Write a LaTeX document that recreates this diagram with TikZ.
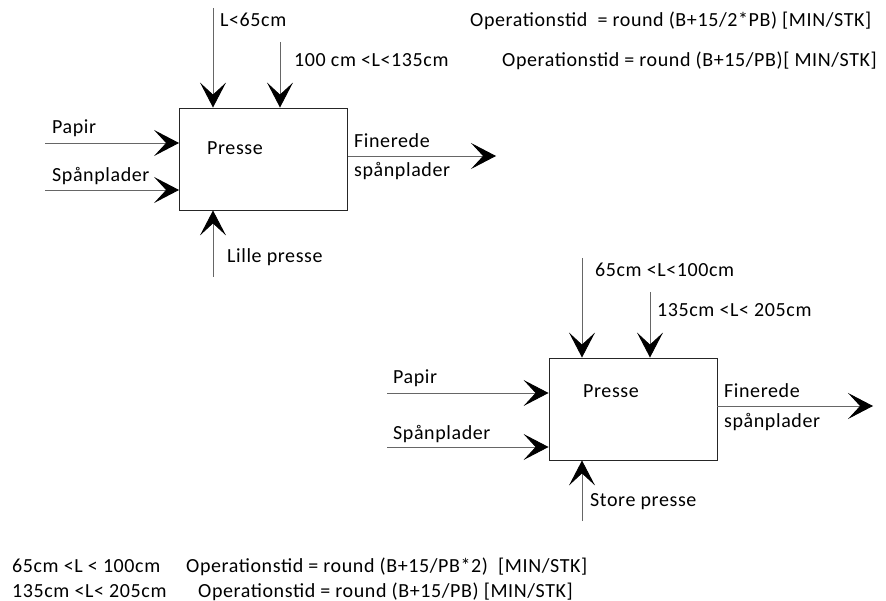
\documentclass[tikz,border=0pt]{standalone}
\usepackage{fontspec}
\setmainfont{Carlito}[LetterSpace=3]
\usetikzlibrary{arrows.meta, positioning, calc}

\begin{document}
\begin{tikzpicture}[
    x=1pt, y=-1pt,
    font=\fontsize{20}{24}\selectfont,
    press/.style={draw=black!85, line width=0.9pt, minimum width=168pt,
                  minimum height=102pt, inner sep=0pt},
    lbl/.style={anchor=base west, inner sep=0pt},
    flow/.style={draw=black!60, line width=0.9pt,
                 -{Stealth[length=25pt, width=26pt, inset=12pt, color=black]}},
]
    \useasboundingbox (0,0) rectangle (886,601);

    %==================== SMALL PRESS ====================
    \node[press] (small) at (263.5,159) {};
    \node[lbl] (smallname) at (207,155) {Presse};

    % inputs and output
    \coordinate (smallpap) at (45,143);
    \coordinate (smallspan) at (45,190);
    \coordinate (smallout) at (496,156);
    \draw[flow] (smallpap) -- (smallpap -| small.west);
    \draw[flow] (smallspan) -- (smallspan -| small.west);
    \draw[flow] (smallout -| small.east) -- (smallout);
    \node[lbl] (smallpaplbl) at (52,134) {Papir};
    \node[lbl] (smallspanlbl) at (52,182) {Spånplader};
    \node[lbl] (smalloutlbl) at (354,148) {Finerede};
    \node[lbl] (smalloutlbl2) at (354,177) {spånplader};

    % lengths from above, press from below
    \coordinate (smalllenA) at (213,8);
    \coordinate (smalllenB) at (280,42);
    \coordinate (smallmech) at (213,277);
    \draw[flow] (smalllenA) -- (smalllenA |- small.north);
    \draw[flow] (smalllenB) -- (smalllenB |- small.north);
    \draw[flow] (smallmech) -- (smallmech |- small.south);
    \node[lbl] (smalllenAlbl) at (220,27) {L<65cm};
    \node[lbl] (smalllenBlbl) at (294,67) {100 cm <L<135cm};
    \node[lbl] (smallmechlbl) at (227,263) {Lille presse};

    % operation times
    \node[lbl] (smalltimeA) at (470,27) {Operationstid\ \ = round (B+15/2*PB) [MIN/STK]};
    \node[lbl] (smalltimeB) at (502,67) {Operationstid = round (B+15/PB)[ MIN/STK]};

    %==================== LARGE PRESS ====================
    \node[press] (large) at (633,409) {};
    \node[lbl] (largename) at (583,398) {Presse};

    % inputs and output
    \coordinate (largepap) at (387,393);
    \coordinate (largespan) at (387,447);
    \coordinate (largeout) at (873,406);
    \draw[flow] (largepap) -- (largepap -| large.west);
    \draw[flow] (largespan) -- (largespan -| large.west);
    \draw[flow] (largeout -| large.east) -- (largeout);
    \node[lbl] (largepaplbl) at (393,384) {Papir};
    \node[lbl] (largespanlbl) at (393,439) {Spånplader};
    \node[lbl] (largeoutlbl) at (724,398) {Finerede};
    \node[lbl] (largeoutlbl2) at (724,427) {spånplader};

    % lengths from above, press from below
    \coordinate (largelenA) at (582,258);
    \coordinate (largelenB) at (650,292);
    \coordinate (largemech) at (582,521);
    \draw[flow] (largelenA) -- (largelenA |- large.north);
    \draw[flow] (largelenB) -- (largelenB |- large.north);
    \draw[flow] (largemech) -- (largemech |- large.south);
    \node[lbl] (largelenAlbl) at (595,277) {65cm <L<100cm};
    \node[lbl] (largelenBlbl) at (657,317) {135cm <L< 205cm};
    \node[lbl] (largemechlbl) at (590,506) {Store presse};

    % operation times
    \node[lbl] (largelenC) at (12,572) {65cm <L < 100cm};
    \node[lbl] (largetimeA) at (186,572) {Operationstid = round (B+15/PB*2)\ \ [MIN/STK]};
    \node[lbl] (largelenD) at (12,597) {135cm <L< 205cm};
    \node[lbl] (largetimeB) at (198,597) {Operationstid = round (B+15/PB) [MIN/STK]};

\end{tikzpicture}
\end{document}
